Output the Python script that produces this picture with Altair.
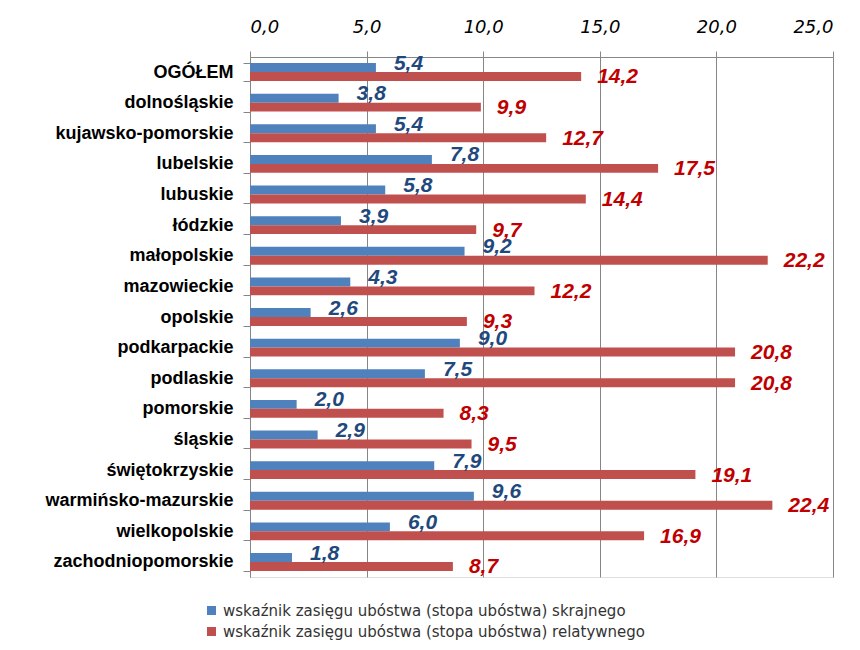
import altair as alt
import pandas as pd

categories = ["OGÓŁEM", "dolnośląskie", "kujawsko-pomorskie", "lubelskie", "lubuskie",
              "łódzkie", "małopolskie", "mazowieckie", "opolskie", "podkarpackie",
              "podlaskie", "pomorskie", "śląskie", "świętokrzyskie",
              "warmińsko-mazurskie", "wielkopolskie", "zachodniopomorskie"]
extreme = [5.4, 3.8, 5.4, 7.8, 5.8, 3.9, 9.2, 4.3, 2.6, 9.0, 7.5, 2.0, 2.9, 7.9, 9.6, 6.0, 1.8]
relative = [14.2, 9.9, 12.7, 17.5, 14.4, 9.7, 22.2, 12.2, 9.3, 20.8, 20.8, 8.3, 9.5, 19.1, 22.4, 16.9, 8.7]
series = ["wskaźnik zasięgu ubóstwa (stopa ubóstwa) skrajnego",
          "wskaźnik zasięgu ubóstwa (stopa ubóstwa) relatywnego"]
ticks = [0, 5, 10, 15, 20, 25]

rows = []
for c, e, r in zip(categories, extreme, relative):
    rows.append({"cat": c, "series": series[0], "value": e, "label": f"{e:.1f}".replace(".", ",")})
    rows.append({"cat": c, "series": series[1], "value": r, "label": f"{r:.1f}".replace(".", ",")})
df = pd.DataFrame(rows)

y_enc = alt.Y("cat:N", sort=categories, title=None,
              scale=alt.Scale(paddingInner=0.42, paddingOuter=0.2),
              axis=alt.Axis(labelFont="Liberation Sans", labelFontWeight="bold", labelFontSize=18,
                            labelColor="#000000", tickBand="extent", tickSize=7, tickColor="#868686",
                            domainColor="#868686", labelPadding=10, labelLimit=400, grid=False))
yoff = alt.YOffset("series:N", sort=series, scale=alt.Scale(paddingInner=0, paddingOuter=0))
x_scale = alt.Scale(domain=[0, 25], nice=False)

bars = alt.Chart(df).mark_bar().encode(
    x=alt.X("value:Q", scale=x_scale, title=None,
            axis=alt.Axis(orient="top", values=ticks,
                          labelExpr="replace(format(datum.value, '.1f'), '.', ',')",
                          labelFont="DejaVu Sans", labelFontStyle="italic", labelFontSize=18,
                          labelColor="#000000", tickSize=6, tickColor="#868686",
                          domainColor="#868686", gridColor="#868686", gridOpacity=1,
                          labelPadding=15)),
    y=y_enc,
    yOffset=yoff,
    color=alt.Color("series:N", sort=series,
                    scale=alt.Scale(domain=series, range=["#4F81BD", "#C0504D"]),
                    legend=alt.Legend(title=None, orient="none", legendX=-46, legendY=546,
                                      direction="vertical", symbolType="square", symbolSize=81,
                                      symbolStrokeWidth=0, labelFont="DejaVu Sans", labelFontSize=15,
                                      labelColor="#333333", rowPadding=5, labelOffset=4,
                                      labelLimit=700)),
)

blue_text = alt.Chart(df).transform_filter(alt.datum.series == series[0]).mark_text(
    align="left", baseline="middle", dx=18, dy=-4, font="Liberation Sans",
    fontWeight="bold", fontStyle="italic", fontSize=21, color="#1F497D"
).encode(x=alt.X("value:Q", scale=x_scale), y=alt.Y("cat:N", sort=categories),
         yOffset=yoff, text="label:N")

red_text = alt.Chart(df).transform_filter(alt.datum.series == series[1]).mark_text(
    align="left", baseline="middle", dx=16, dy=1, font="Liberation Sans",
    fontWeight="bold", fontStyle="italic", fontSize=21, color="#C00000"
).encode(x=alt.X("value:Q", scale=x_scale), y=alt.Y("cat:N", sort=categories),
         yOffset=yoff, text="label:N")

chart = alt.layer(bars, blue_text, red_text).properties(
    width=583, height=520,
    autosize=alt.AutoSizeParams(type="none"),
    padding={"left": 242, "top": 49, "right": 19, "bottom": 64},
).configure_view(stroke=None).configure(background="#ffffff")

chart.save("out.html", embed_options={"renderer": "svg", "actions": False})
